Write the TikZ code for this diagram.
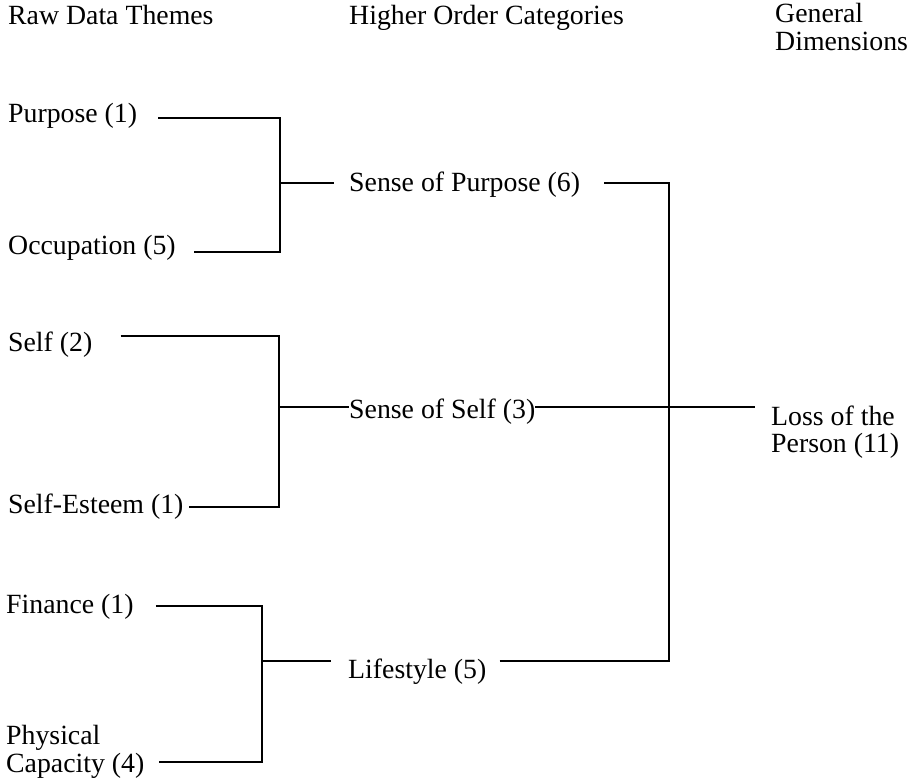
\documentclass[tikz,border=0pt]{standalone}
\usepackage{fontspec}
\setmainfont{Liberation Serif}
\usepackage{tikz}
\usetikzlibrary{calc}

\begin{document}
\begin{tikzpicture}[x=1pt,y=-1pt,
		every node/.style={inner sep=0pt,anchor=base west,align=left},
		link/.style={line width=1.5pt},
		font=\fontsize{27.8}{28}\selectfont]
		\useasboundingbox (0,0) rectangle (913,783);
		% column heads (base of a two-line node is its last line)
		\node (raw) at (8,25) {Raw Data Themes};
		\node (hoc) at (349,25) {Higher Order Categories};
		\node (gen) at (775,51) {General\\Dimensions};
		%
		\node (purp) at (8,123) {Purpose (1)};
		\node (occ) at (8,255) {Occupation (5)};
		\node (self) at (8,352) {Self (2)};
		\node (est) at (8,513) {Self-Esteem (1)};
		\node (fin) at (6,613) {Finance (1)};
		\node (phys) at (6,772) {Physical\\Capacity (4)};
		%
		\node (sop) at (349,192) {Sense of Purpose (6)};
		\node (sos) at (349,418) {Sense of Self (3)};
		\node (life) at (348,678) {Lifestyle (5)};
		%
		\node (loss) at (771,453) {Loss of the\\Person (11)};
		%
		\coordinate (purpC) at (280,118);
		\coordinate (occC) at (280,252);
		\coordinate (sopJ) at (280,183);
		\coordinate (selfC) at (279,336);
		\coordinate (estC) at (279,507);
		\coordinate (sosJ) at (279,407);
		\coordinate (finC) at (262,606);
		\coordinate (capC) at (262,762);
		\coordinate (lifeJ) at (262,661);
		\coordinate (lossJ) at (669,407);
		%
		\draw[link,shorten <=21pt,shorten >=18pt]
			(purpC -| purp.east) -- (purpC) -- (occC) -- (occC -| occ.east);
		\draw[link,shorten <=28pt,shorten >=5pt]
			(selfC -| self.east) -- (selfC) -- (estC) -- (estC -| est.east);
		\draw[link,shorten <=22pt,shorten >=14pt]
			(finC -| fin.east) -- (finC) -- (capC) -- (capC -| phys.east);
		%
		\draw[link,shorten >=15pt] (sopJ) -- (sopJ -| sop.west);
		\draw[link] (sosJ) -- (sosJ -| sos.west);
		\draw[link,shorten >=17pt] (lifeJ) -- (lifeJ -| life.west);
		%
		\draw[link,shorten <=24pt] (sopJ -| sop.east) -| (lossJ);
		\draw[link,shorten <=13pt] (lifeJ -| life.east) -| (lossJ);
		\draw[link,shorten >=16pt] (sosJ -| sos.east) -- (lossJ -| loss.west);
	\end{tikzpicture}
\end{document}
